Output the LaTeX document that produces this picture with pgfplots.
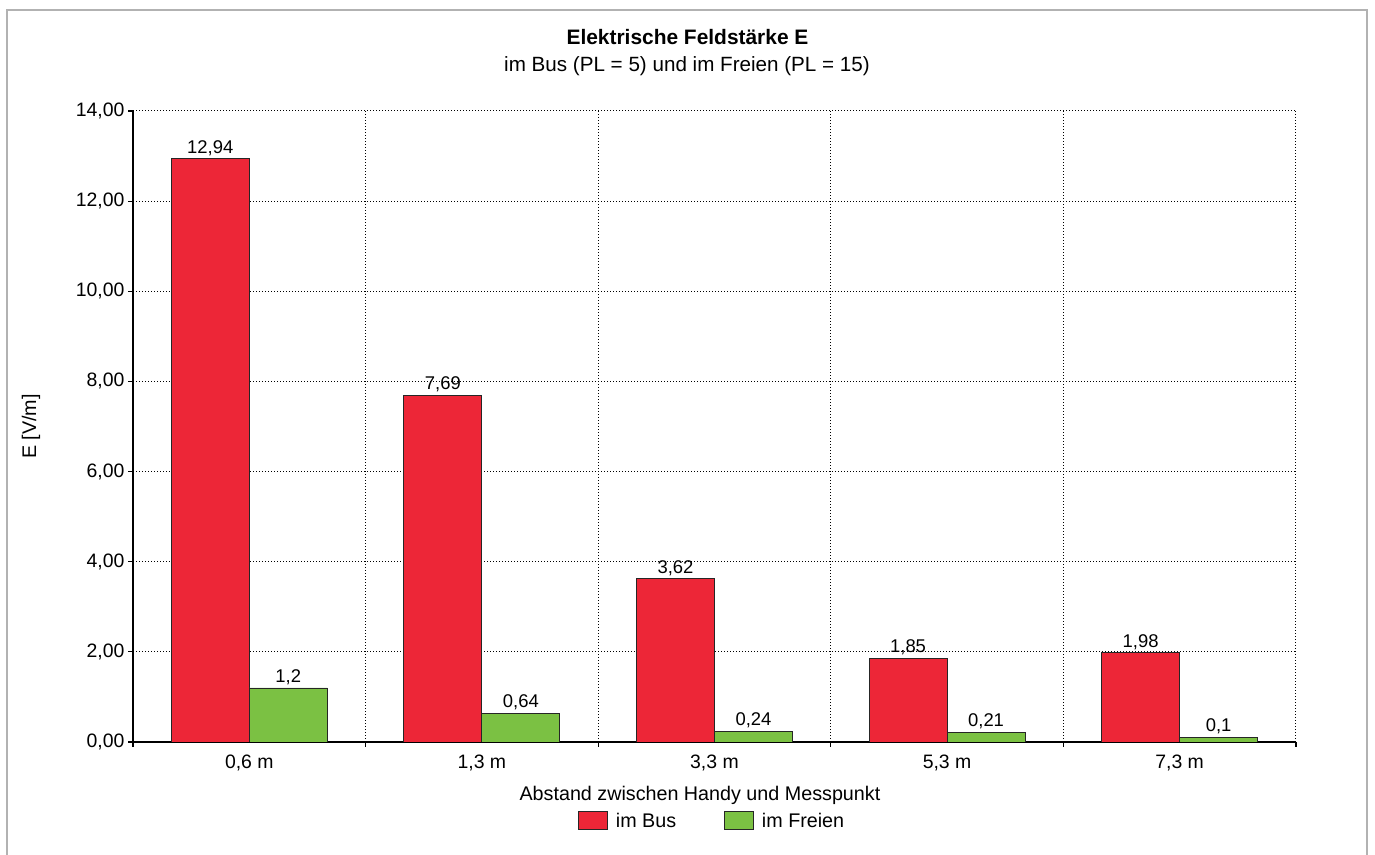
\documentclass[border=0pt]{standalone}
\usepackage{pgfplots}
\pgfplotsset{compat=1.18}
\usepackage{fontspec}
\setmainfont{Liberation Sans}
\definecolor{busred}{RGB}{237,38,55}
\definecolor{freigreen}{RGB}{123,193,67}
\newcommand{\lab}{\fontsize{19.8}{23}\selectfont}
\newcommand{\tlab}{\fontsize{19.5}{23}\selectfont}
\newcommand{\vlab}{\fontsize{18.5}{22}\selectfont}
\begin{document}
\begin{tikzpicture}
\useasboundingbox (0bp,0bp) rectangle (1375bp,855bp);
\draw[gray!60, line width=1.2bp] (7bp,-2bp) -- (7bp,845bp) -- (1367bp,845bp) -- (1367bp,-2bp);
\node[font=\fontsize{21}{25}\selectfont\bfseries, anchor=base] at (687.5bp,810bp) {Elektrische Feldstärke E};
\node[font=\fontsize{20.7}{25}\selectfont, anchor=base] at (687bp,783bp) {im Bus (PL = 5) und im Freien (PL = 15)};
\begin{axis}[
  at={(133bp,113bp)}, anchor=south west,
  width=1163bp, height=631bp, scale only axis,
  xmin=-0.5, xmax=4.5, ymin=0, ymax=14,
  axis x line*=bottom, axis y line*=left,
  axis line style={line width=1.2bp, black},
  xtick={-0.5,0.5,...,4.5}, xticklabels={},
  extra x ticks={0,1,2,3,4},
  extra x tick labels={{0,6 m},{1,3 m},{3,3 m},{5,3 m},{7,3 m}},
  extra x tick style={grid=none, major tick length=0pt, tick label style={yshift=-9bp}},
  ytick={0,2,...,14},
  xmajorgrids, ymajorgrids,
  grid style={black, line width=1bp, dash pattern=on 1bp off 2bp},
  major tick length=5bp,
  xtick align=center, ytick align=outside,
  tick style={black, line width=1.2bp},
  yticklabel style={/pgf/number format/.cd, fixed, fixed zerofill, precision=2, use comma, assume math mode=true},
  tick label style={font=\tlab},
  ylabel={E [V/m]},
  ylabel style={at={(axis description cs:-0.0877,0.5)}, anchor=center, font=\lab},
  xlabel={Abstand zwischen Handy und Messpunkt},
  xlabel style={at={(axis description cs:0.4875,-0.085)}, anchor=center, font=\lab},
  ybar, bar width=78bp,
  nodes near coords,
  nodes near coords style={font=\vlab, /pgf/number format/use comma, /pgf/number format/assume math mode=true, anchor=south, inner sep=0pt, yshift=3bp},
  legend style={at={(0.498,-0.125)}, anchor=center, draw=none, fill=none, font=\lab,
    legend columns=2,
    /tikz/every odd column/.append style={column sep=6bp},
    /tikz/every even column/.append style={column sep=46bp}},
]
\addplot[fill=busred, draw=black!85, line width=0.8bp, bar shift=-39bp,
  legend image code/.code={\draw[fill=busred, draw=black!85, line width=0.8bp] (0bp,-9bp) rectangle (29bp,9bp);}]
  coordinates {(0,12.94) (1,7.69) (2,3.62) (3,1.85) (4,1.98)};
\addlegendentry{im Bus}
\addplot[fill=freigreen, draw=black!85, line width=0.8bp, bar shift=39bp,
  legend image code/.code={\draw[fill=freigreen, draw=black!85, line width=0.8bp] (0bp,-9bp) rectangle (29bp,9bp);}]
  coordinates {(0,1.2) (1,0.64) (2,0.24) (3,0.21) (4,0.1)};
\addlegendentry{im Freien}
\end{axis}
\end{tikzpicture}
\end{document}
